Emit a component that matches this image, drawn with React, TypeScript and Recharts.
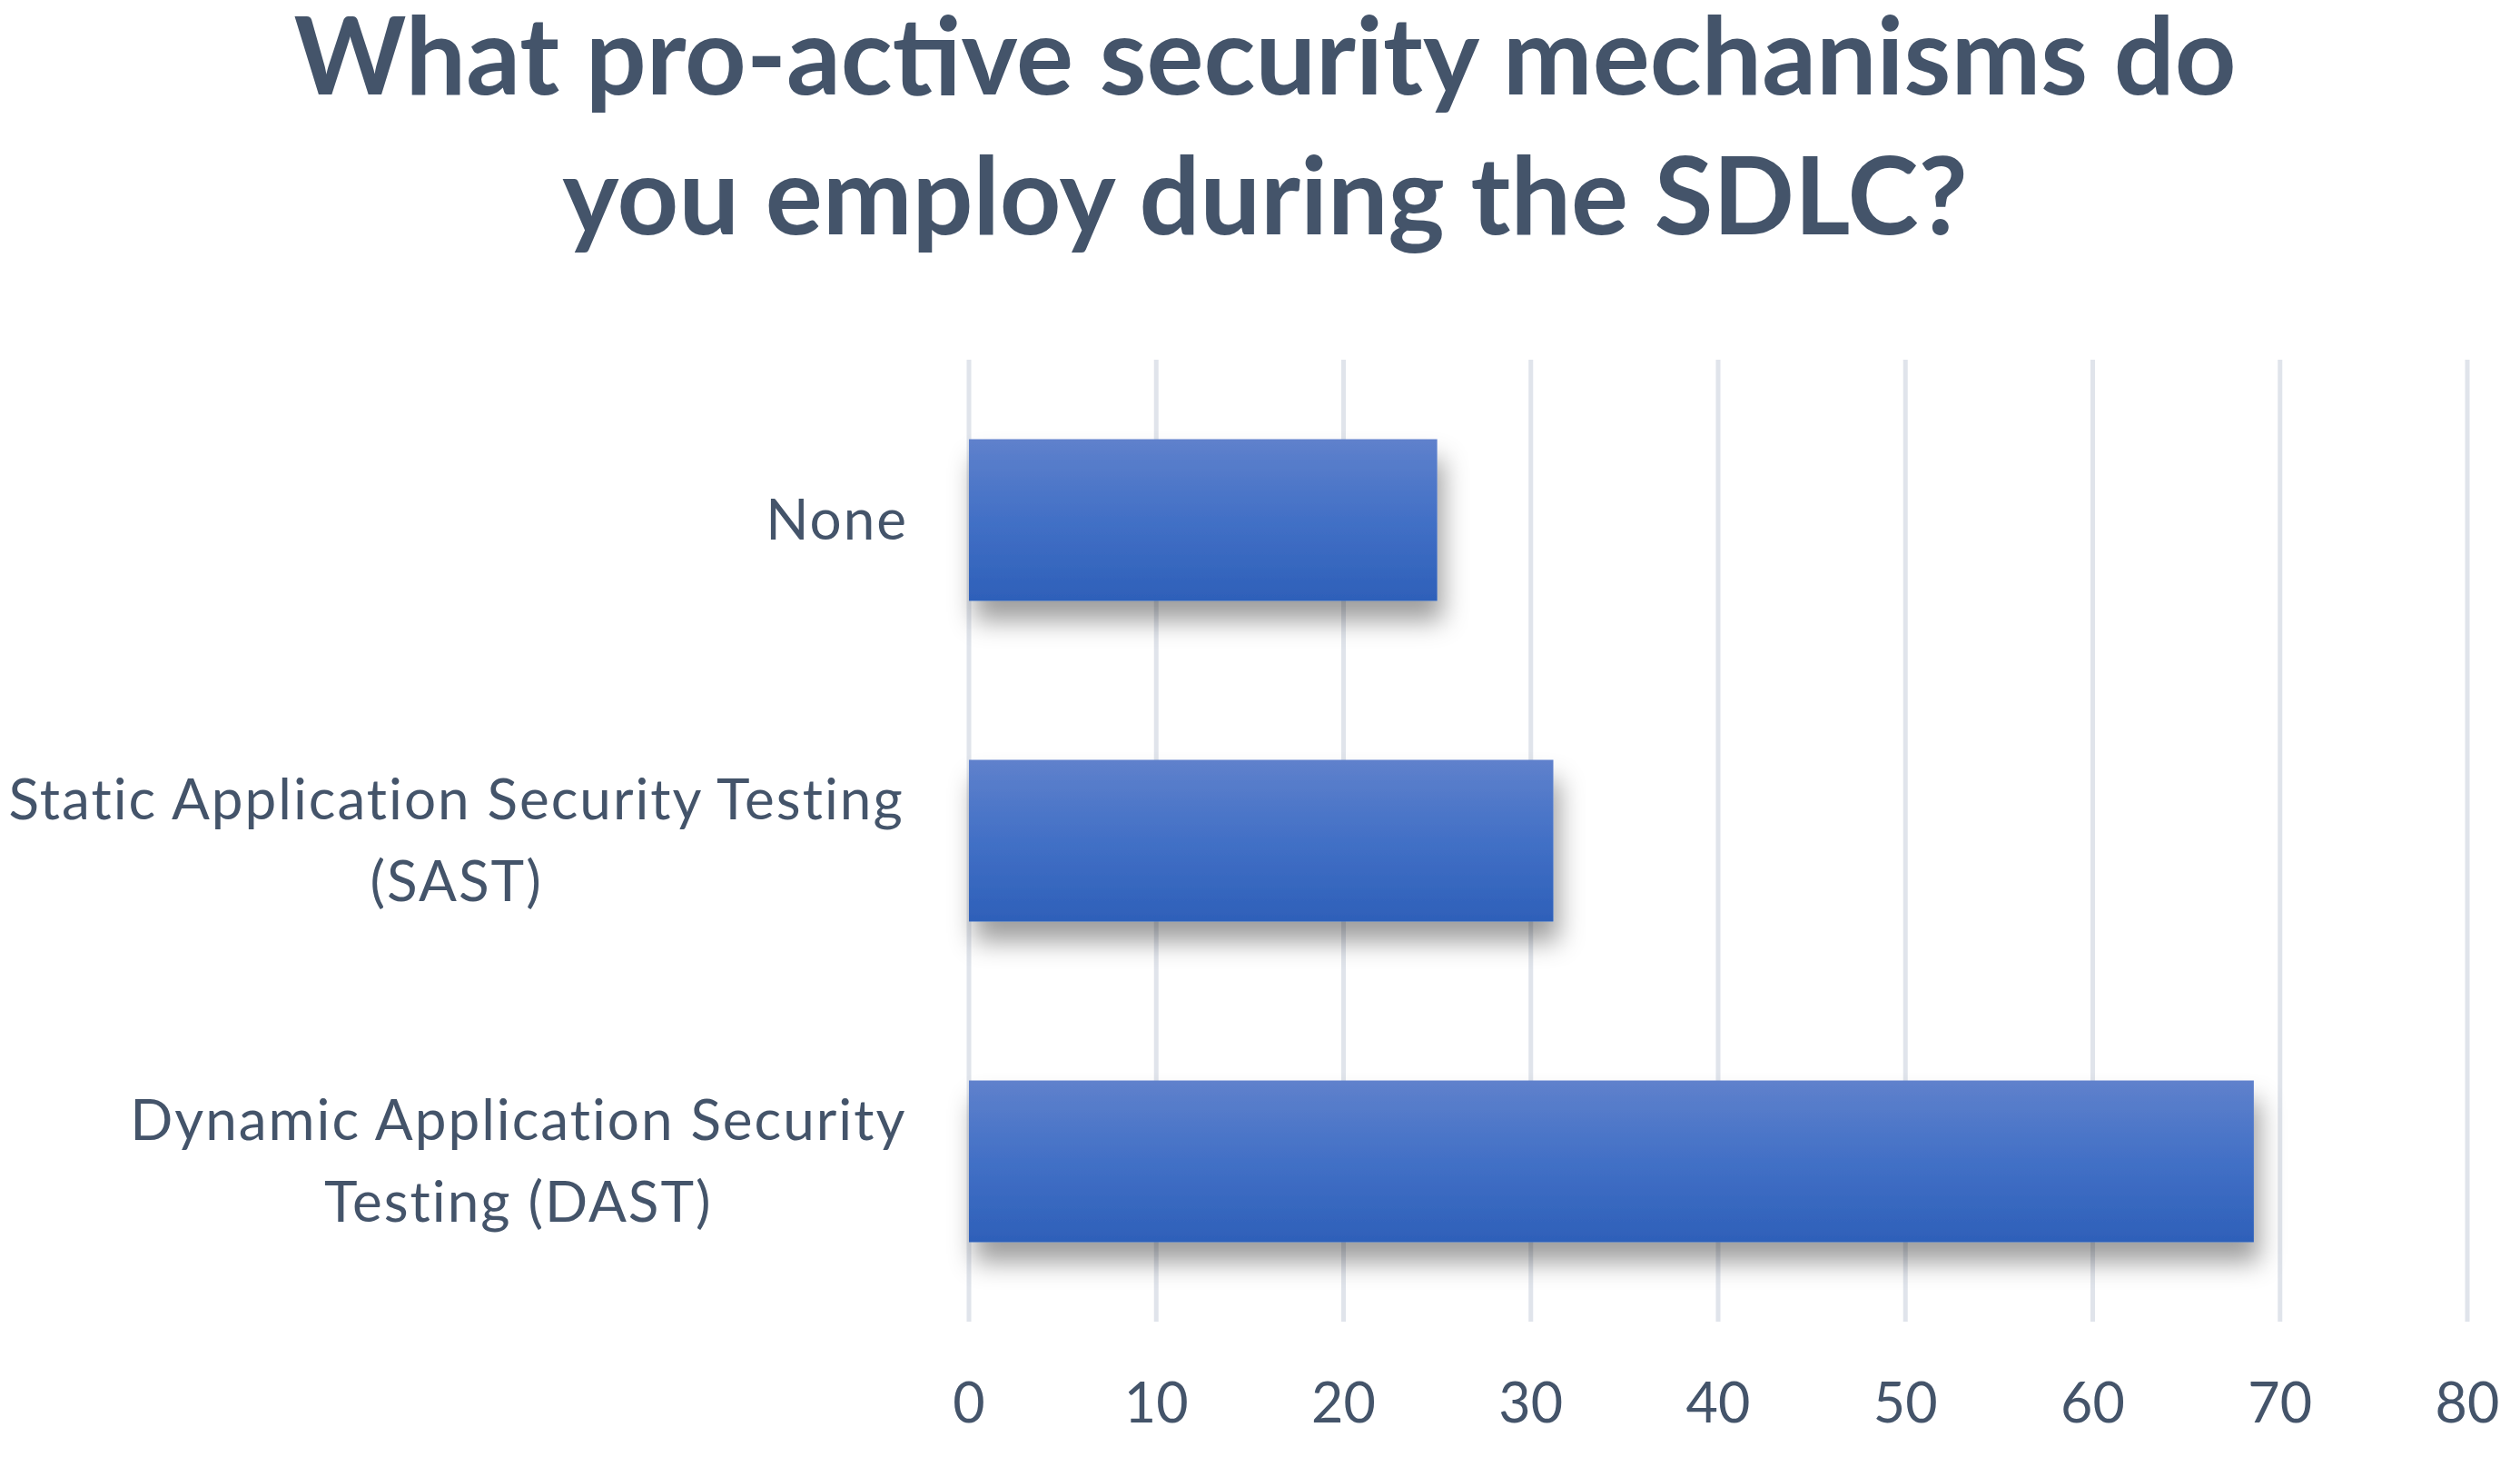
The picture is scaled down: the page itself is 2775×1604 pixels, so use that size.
import React from 'react';
import { BarChart, Bar, XAxis, YAxis, CartesianGrid } from 'recharts';

const categories = ['None', 'Static Application Security Testing\n(SAST)', 'Dynamic Application Security\nTesting (DAST)'];
const responses = [25, 31.2, 68.6];
const xTicks = [0, 10, 20, 30, 40, 50, 60, 70, 80];
const titleLines = ['What pro-active security mechanisms do', 'you employ during the SDLC?'];

const data = categories.map((c, i) => ({ category: c, value: responses[i] }));

const TEXT = '#44546A';
const FONT = 'Lato, "Open Sans", sans-serif';
const LABEL_SIZE = 62;
const LABEL_SPACING = 2;
const TITLE_SIZE = 118;

let ctx: CanvasRenderingContext2D | null = null;
function measure(t: string): number {
  if (!ctx) {
    ctx = document.createElement('canvas').getContext('2d');
  }
  if (!ctx) return t.length * (LABEL_SIZE * 0.48 + LABEL_SPACING);
  ctx.font = `${LABEL_SIZE}px Lato`;
  return ctx.measureText(t).width + t.length * LABEL_SPACING;
}

const CategoryTick = (props: any) => {
  const { x, y, payload } = props;
  const lines: string[] = String(payload.value).split('\n');
  const maxW = Math.max(...lines.map(measure));
  const cx = x - maxW / 2;
  const lh = 90;
  const start = y - ((lines.length - 1) * lh) / 2;
  return (
    <g>
      {lines.map((l, i) => (
        <text key={i} x={cx} y={start + i * lh} dy="0.35em" textAnchor="middle" fill={TEXT}
          fontFamily={FONT} fontSize={LABEL_SIZE} letterSpacing={LABEL_SPACING}>{l}</text>
      ))}
    </g>
  );
};

export default function App() {
  return (
    <div style={{ position: 'absolute', left: 0, top: 0, width: 2775, height: 1604, background: '#fff' }}>
      <div style={{ position: 'absolute', left: 0, top: 0 }}>
        <BarChart width={2775} height={1604} data={data} layout="vertical"
          margin={{ top: 396, right: 58, bottom: 0, left: 0 }} barCategoryGap="24.8%">
          <defs>
            <linearGradient id="barGrad" x1="0" y1="0" x2="0" y2="1">
              <stop offset="0%" stopColor="#5F81CC" />
              <stop offset="50%" stopColor="#4270C6" />
              <stop offset="100%" stopColor="#2E60B9" />
            </linearGradient>
            <filter id="shadow" x="-10%" y="-20%" width="130%" height="170%">
              <feDropShadow dx="6" dy="22" stdDeviation="14" floodColor="#000" floodOpacity="0.38" />
            </filter>
          </defs>
          <CartesianGrid horizontal={false} vertical={true} stroke="#E0E4EB" strokeWidth={5} />
          <XAxis type="number" domain={[0, 80]} ticks={xTicks} interval={0} height={149}
            axisLine={false} tickLine={false} tickMargin={62}
            tick={{ fill: TEXT, fontFamily: FONT, fontSize: 61 }} />
          <YAxis type="category" dataKey="category" width={1067} axisLine={false} tickLine={false}
            tickSize={0} tickMargin={67} interval={0} tick={<CategoryTick />} />
          <Bar dataKey="value" fill="url(#barGrad)" filter="url(#shadow)" isAnimationActive={false} />
        </BarChart>
      </div>
      {titleLines.map((t, i) => (
        <div key={i} style={{
          position: 'absolute', left: 0, width: 2786, top: i * 154, textAlign: 'center',
          fontFamily: FONT, fontWeight: 'bold', fontSize: TITLE_SIZE, lineHeight: `${TITLE_SIZE}px`,
          color: TEXT, whiteSpace: 'nowrap'
        }}>{t}</div>
      ))}
    </div>
  );
}
